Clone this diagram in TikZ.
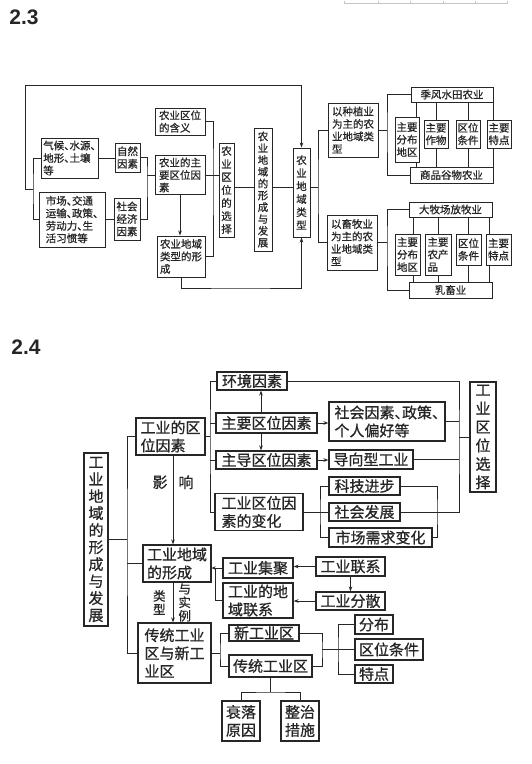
\documentclass[tikz,border=0pt]{standalone}
\usepackage{fontspec}
\usepackage{tikz}
\usetikzlibrary{arrows.meta}
\newfontfamily\cjk[FakeBold=0.8]{Noto Sans CJK SC}
\newfontfamily\cjkh[FakeBold=0.8,RawFeature=+halt]{Noto Sans CJK SC}
\newfontfamily\lat{Liberation Sans}

\begin{document}
\begin{tikzpicture}[x=1pt,y=-1pt,line width=0.9pt,color=black!85,
    >={Stealth[length=5pt,width=3.6pt]},
    sz/.style 2 args={minimum width=#1pt,minimum height=#2pt}]
    \tikzstyle{box}=[draw,line width=1pt,inner sep=1pt,align=left,
                   font=\cjk\fontsize{10.5}{12.5}\selectfont];
    \tikzstyle{vbox}=[box,align=center,font=\cjk\fontsize{10.5}{13}\selectfont];
    \tikzstyle{big}=[draw,line width=1.2pt,inner sep=1pt,align=left,
                   font=\cjk\fontsize{15}{18}\selectfont];
    \tikzstyle{vbig}=[big,align=center,font=\cjk\fontsize{15}{18.5}\selectfont];
    \tikzstyle{lab}=[inner sep=1pt,align=center,font=\cjk\fontsize{12.5}{13.5}\selectfont];
    \tikzstyle{ttl}=[anchor=west,inner sep=0pt,font=\lat\bfseries\fontsize{21}{21}\selectfont];

    \useasboundingbox (0,0) rectangle (531,764);
    \draw[gray!45,line width=0.6pt] (344,1) -- (344,3) -- (507,3) -- (507,1)
        (378,1) -- (378,3) (410,1) -- (410,3) (443,1) -- (443,3) (475,1) -- (475,3);

    % 2.3
    \node[ttl] (t23) at (9,17.5) {2.3};
    \node[box,sz={57}{40},font=\cjkh\fontsize{10.5}{12.5}\selectfont] (qh) at (69.5,158) {气候、水源、\\地形、土壤\\等};
    \node[box,sz={66}{55},font=\cjkh\fontsize{10.5}{12.5}\selectfont] (sc) at (72,219.5) {市场、交通\\运输、政策、\\劳动力、生\\活习惯等};
    \node[box,sz={25}{29}] (zr) at (127.5,157.5) {自然\\因素};
    \node[box,sz={26}{42}] (sh) at (127,219) {社会\\经济\\因素};
    \node[box,sz={50}{27}] (hy) at (180,121.5) {农业区位\\的含义};
    \node[box,sz={50}{39}] (zy) at (180,175) {农业的主\\要区位因\\素};
    \node[box,sz={48}{41}] (xc) at (181,256.5) {农业地域\\类型的形\\成};
    \node[vbox,sz={15}{94}] (xz) at (226.5,190) {农\\业\\区\\位\\的\\选\\择};
    \node[vbox,sz={18}{123},font=\cjk\fontsize{10.5}{11.8}\selectfont] (fz) at (263,189.5) {农\\业\\地\\域\\的\\形\\成\\与\\发\\展};
    \node[vbox,sz={17}{89}] (lx) at (301.5,192.5) {农\\业\\地\\域\\类\\型};
    \node[box,sz={50}{54}] (zz) at (353,130) {以种植业\\为主的农\\业地域类\\型};
    \node[box,sz={50}{55}] (xm) at (352,242.5) {以畜牧业\\为主的农\\业地域类\\型};
    \node[box,sz={82}{15},align=center] (jf) at (452,94.5) {季风水田农业};
    \node[box,sz={83}{16},align=center] (sp) at (451.5,175) {商品谷物农业};
    \node[box,sz={24}{45}] (t1) at (407,139.5) {主要\\分布\\地区};
    \node[box,sz={24}{28}] (t2) at (436,134) {主要\\作物};
    \node[box,sz={24}{28}] (t3) at (468,134) {区位\\条件};
    \node[box,sz={24}{28}] (t4) at (499,134) {主要\\特点};
    \node[box,sz={83}{15},align=center] (dm) at (450.5,209.5) {大牧场放牧业};
    \node[box,sz={83}{16},align=center] (rx) at (450.5,290) {乳畜业};
    \node[box,sz={25}{41}] (b1) at (407.5,254.5) {主要\\分布\\地区};
    \node[box,sz={26}{41}] (b2) at (438,254.5) {主要\\农产\\品};
    \node[box,sz={25}{31}] (b3) at (468.5,249.5) {区位\\条件};
    \node[box,sz={25}{31}] (b4) at (498.5,249.5) {主要\\特点};

    \coordinate (l1) at (33,189);
    \coordinate (tp) at (25,85);
    \draw (qh.west) -| (l1) |- (sc.west);
    \draw[->] (l1) -- (l1 -| tp) -- (tp) -| (lx.north);
    \draw (qh.east) -- (qh.east -| zr.west);
    \draw (sc.east) -- (sc.east -| sh.west);
    \coordinate (m1) at (147,175);
    \draw (zr.east) -| (m1) |- (sh.east);
    \draw (m1) -- (zy.west);
    \coordinate (m2) at (213,175);
    \draw (hy.east) -| (m2) |- (xc.east);
    \draw (zy.east) -- (zy.east -| xz.west);
    \coordinate (mid) at (0,187);
    \draw (xz.east |- mid) -- (fz.west |- mid) (fz.east |- mid) -- (lx.west |- mid);
    \coordinate (m5) at (318,187);
    \draw (lx.east |- mid) -- (m5);
    \draw (zz.west) -| (m5) |- (xm.west);
    \draw[->] (zy.south) -- (zy.south |- xc.north);
    \coordinate (bt) at (240,288);
    \draw[->] (xc.south) |- (bt) -| (lx.south);
    \coordinate (m6) at (387,130);
    \draw (jf.west) -| (m6) |- (sp.west);
    \draw (zz.east) -- (m6);
    \coordinate (m7) at (387,242.5);
    \draw (dm.west) -| (m7) |- (rx.west);
    \draw (xm.east) -- (m7);

    \draw ([xshift=9pt]t1.north) -- ([xshift=9pt]t1.north |- jf.south)
          ([xshift=9pt]t1.south) -- ([xshift=9pt]t1.south |- sp.north);
    \draw (t2.north) -- (t2.north |- jf.south) (t2.south) -- (t2.south |- sp.north);
    \draw (t3.north) -- (t3.north |- jf.south) (t3.south) -- (t3.south |- sp.north);
    \draw ([xshift=-6pt]t4.north) -- ([xshift=-6pt]t4.north |- jf.south)
          ([xshift=-6pt]t4.south) -- ([xshift=-6pt]t4.south |- sp.north);
    \draw ([xshift=5.5pt]b1.north) -- ([xshift=5.5pt]b1.north |- dm.south)
          ([xshift=5.5pt]b1.south) -- ([xshift=5.5pt]b1.south |- rx.north);
    \draw (b2.north) -- (b2.north |- dm.south) (b2.south) -- (b2.south |- rx.north);
    \draw (b3.north) -- (b3.north |- dm.south) (b3.south) -- (b3.south |- rx.north);
    \draw ([xshift=-9.5pt]b4.north) -- ([xshift=-9.5pt]b4.north |- dm.south)
          ([xshift=-9.5pt]b4.south) -- ([xshift=-9.5pt]b4.south |- rx.north);

    % 2.4
    \node[ttl] (t24) at (11,347) {2.4};
    \node[vbig,sz={24}{173},font=\cjk\fontsize{15}{17}\selectfont] (fz2) at (96,539.5) {工\\业\\地\\域\\的\\形\\成\\与\\发\\展};
    \node[big,sz={69}{37}] (qy) at (170.5,436.5) {工业的区\\位因素};
    \node[big,sz={70}{18}] (hj) at (252,381) {环境因素};
    \node[big,sz={101}{20}] (zyq) at (266.5,423) {主要区位因素};
    \node[big,sz={101}{18}] (zd) at (266.5,460) {主导区位因素};
    \node[big,sz={88}{37}] (bh) at (259,512) {工业区位因\\素的变化};
    \node[big,sz={116}{39},font=\cjkh\fontsize{15}{18}\selectfont] (shy) at (387,421.5) {社会因素、政策、\\个人偏好等};
    \node[big,sz={84}{19}] (dx) at (371,459.5) {导向型工业};
    \node[big,sz={71}{18}] (kj) at (364.5,486) {科技进步};
    \node[big,sz={71}{18}] (sf) at (364.5,512) {社会发展};
    \node[big,sz={103}{19}] (xq) at (380.5,537.5) {市场需求变化};
    \node[vbig,sz={26}{110}] (xz2) at (483,437) {工\\业\\区\\位\\选\\择};
    \node[big,sz={68}{37}] (xc2) at (177,563.5) {工业地域\\的形成};
    \node[big,sz={70}{20}] (jj) at (258,568) {工业集聚};
    \node[big,sz={70}{35}] (dl) at (258,600.5) {工业的地\\域联系};
    \node[big,sz={69}{19}] (lx2) at (350.5,566.5) {工业联系};
    \node[big,sz={69}{18}] (fs) at (350.5,601) {工业分散};
    \node[big,sz={73}{60}] (ct) at (174.5,653) {传统工业\\区与新工\\业区};
    \node[big,sz={70}{16}] (xg) at (264,633) {新工业区};
    \node[big,sz={83}{22}] (cg) at (270.5,666) {传统工业区};
    \node[big,sz={38}{19}] (fb) at (374,624.5) {分布};
    \node[big,sz={68}{21}] (qt) at (389,649.5) {区位条件};
    \node[big,sz={38}{18}] (td) at (374,674) {特点};
    \node[big,sz={38}{40}] (sl) at (241,721) {衰落\\原因};
    \node[big,sz={38}{40}] (zl) at (300,721) {整治\\措施};

    \coordinate (n1) at (127,539.5);
    \draw (fz2.east) -- (n1);
    \draw (qy.west) -| (n1) |- (ct.west);
    \draw (xc2.west) -- (xc2.west -| n1);
    \draw[->] ([xshift=2.5pt]qy.south) -- ([xshift=2.5pt]qy.south |- xc2.north)
        node[lab,font=\cjk\fontsize{15}{15}\selectfont,pos=0.3,left=4pt]{影}
        node[lab,font=\cjk\fontsize{15}{15}\selectfont,pos=0.3,right=4pt]{响};
    \coordinate (n2) at (210,436.5);
    \draw (qy.east) -- (n2);
    \draw (hj.west) -| (n2) |- (bh.west);
    \draw (zyq.west) -- (zyq.west -| n2);
    \draw (zd.west) -- (zd.west -| n2);
    \draw[->] ([xshift=-5.5pt]zyq.north) -- ([xshift=-5.5pt]zyq.north |- hj.south);
    \draw[->] ([xshift=-5.5pt]zyq.south) -- ([xshift=-5.5pt]zyq.south |- zd.north);
    \draw[->] (zyq.east) -- (zyq.east -| shy.west);
    \draw[->] (zd.east) -- (zd.east -| dx.west);
    \coordinate (n3) at (320,512);
    \draw (kj.west) -| (n3) |- (xq.west);
    \draw (bh.east) -- (sf.west);
    \coordinate (n4) at (437,512);
    \draw (kj.east) -| (n4) |- (xq.east);
    \coordinate (n5) at (459,437);
    \draw (hj.east) -| (n5) |- (sf.east);
    \draw (shy.east) -- (shy.east -| n5);
    \draw (dx.east) -- (dx.east -| n5);
    \draw (n5) -- (xz2.west);
    \draw[->] (lx2.west) -- (lx2.west -| jj.east);
    \draw[->] (lx2.south) -- (lx2.south |- fs.north);
    \draw[->] (fs.west) -- (fs.west -| dl.east);
    \coordinate (n6) at (215,568);
    \draw (jj.west) -- (n6);
    \draw (dl.west) -| (n6);
    \draw[-{Stealth[length=4pt,width=3.5pt]}] (n6) -- (n6 -| xc2.east);
    \draw[->] ([xshift=-4pt]xc2.south) -- ([xshift=-4pt]xc2.south |- ct.north)
        node[lab,midway,left=6pt]{类\\型}
        node[lab,midway,right=4pt]{与\\实\\例};
    \coordinate (n7) at (220,653);
    \draw (ct.east) -- (n7);
    \draw (xg.west) -| (n7) |- (cg.west);
    \coordinate (n8) at (322,649.5);
    \draw (xg.east) -| (n8) |- (cg.east);
    \draw (n8) -- (qt.west);
    \coordinate (n9) at (338,649.5);
    \draw (fb.west) -| (n9) |- (td.west);
    \coordinate (n10) at (270.5,692);
    \draw (cg.south) -- (n10);
    \draw (sl.north) |- (n10) -| (zl.north);
\end{tikzpicture}
\end{document}
